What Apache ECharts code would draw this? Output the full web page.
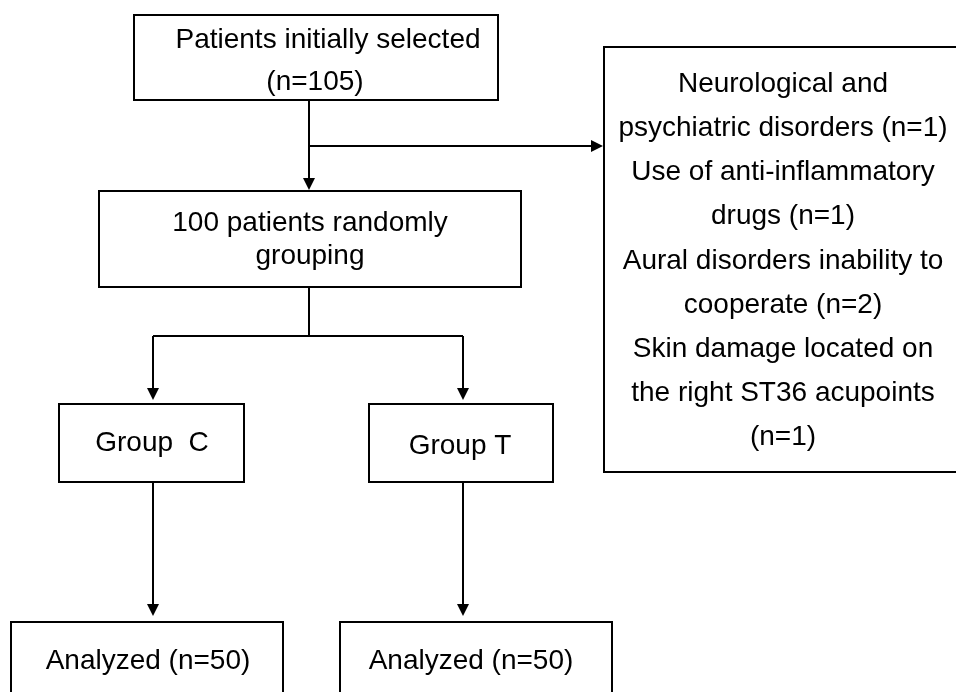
<!DOCTYPE html>
<html lang="en">
<head>
	<meta charset="UTF-8">
	<title>Flow chart</title>
	<script src="https://cdn.jsdelivr.net/npm/echarts@6/dist/echarts.min.js"></script>
	<style>
		html,body{height:100%;margin:0;background:#fff;}
	</style>
</head>
<body>
	<div id="chart" style="width:956px; height:692px;"></div>
	<script>
	// box texts, one entry per line
	var topBox = ['Patients initially selected', '(n=105)'];
	var excluded = [
		'Neurological and',
		'psychiatric disorders (n=1)',
		'Use of anti-inflammatory',
		'drugs (n=1)',
		'Aural disorders inability to',
		'cooperate (n=2)',
		'Skin damage located on',
		'the right ST36 acupoints',
		'(n=1)'
	];
	var randomBox = ['100 patients randomly', 'grouping'];
	var groups = ['Group  C', 'Group T'];
	var analyzed = ['Analyzed (n=50)', 'Analyzed (n=50)'];

	var FONT = '28px "Liberation Sans", Arial, sans-serif';
	var els = [];

	function box(x, y, w, h) {
		els.push({
			type: 'rect',
			shape: {x: x, y: y, width: w, height: h},
			style: {fill: '#fff', stroke: '#000', lineWidth: 2}
		});
	}
	function line(pts) {
		els.push({
			type: 'polyline',
			shape: {points: pts},
			style: {stroke: '#000', lineWidth: 2, fill: null}
		});
	}
	// arrow head, tip at (x,y), dir 'down' or 'right'
	function head(x, y, dir) {
		var p = dir == 'down'
			? [[x - 6, y - 12], [x + 6, y - 12], [x, y]]
			: [[x - 12, y - 6], [x - 12, y + 6], [x, y]];
		els.push({type: 'polygon', shape: {points: p}, style: {fill: '#000'}});
	}
	function lines(arr, cx, y0, gap) {
		for (var i = 0; i < arr.length; i++) {
			els.push({
				type: 'text',
				x: cx, y: y0 + i * gap,
				style: {text: arr[i], font: FONT, fill: '#000', align: 'center', verticalAlign: 'middle'}
			});
		}
	}

	// boxes
	box(134, 15, 364, 85);
	box(604, 47, 360, 425);
	box(99, 191, 422, 96);
	box(59, 404, 185, 78);
	box(369, 404, 184, 78);
	box(11, 622, 272, 90);
	box(340, 622, 272, 90);

	// connectors
	line([[309, 100], [309, 186]]); head(309, 190, 'down');
	line([[309, 146], [598, 146]]); head(603, 146, 'right');
	line([[309, 287], [309, 336]]);
	line([[153, 336], [463, 336]]);
	line([[153, 336], [153, 396]]); head(153, 400, 'down');
	line([[463, 336], [463, 396]]); head(463, 400, 'down');
	line([[153, 482], [153, 612]]); head(153, 616, 'down');
	line([[463, 482], [463, 612]]); head(463, 616, 'down');

	// texts
	lines([topBox[0]], 328, 40, 0);
	lines([topBox[1]], 315, 82, 0);
	lines(excluded, 783, 84, 44.2);
	lines(randomBox, 310, 223, 33);
	lines([groups[0]], 152, 443, 0);
	lines([groups[1]], 460, 446, 0);
	lines([analyzed[0]], 148, 661, 0);
	lines([analyzed[1]], 471, 661, 0);

	var myChart = echarts.init(document.getElementById('chart'));
	myChart.setOption({
		animation: false,
		graphic: {elements: els}
	});
	</script>
</body>
</html>
